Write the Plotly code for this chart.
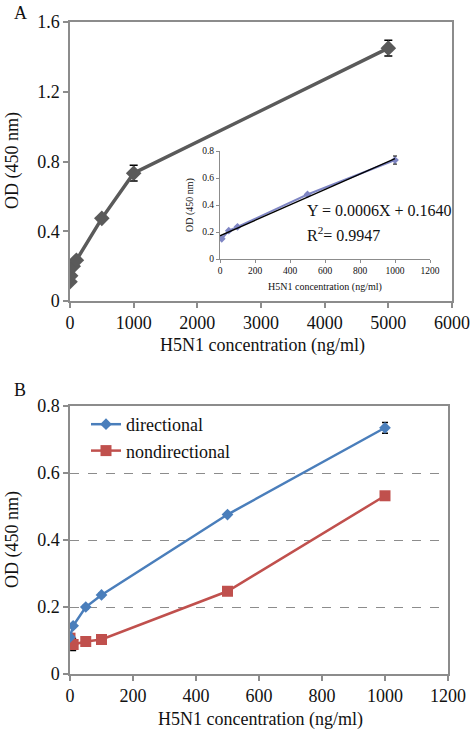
import numpy as np
import plotly.graph_objects as go

# ---- Data ----
# Panel A (main)
a_conc = [0, 10, 50, 100, 500, 1000, 5000]
a_od = [0.11, 0.145, 0.20, 0.234, 0.474, 0.733, 1.45]
a_err = [0.005, 0.005, 0.005, 0.008, 0.008, 0.045, 0.045]

# Panel A inset (linear range)
inset_conc = [10, 50, 100, 500, 1000]
inset_od = [0.15, 0.21, 0.238, 0.478, 0.733]
inset_err = [0.005, 0.005, 0.005, 0.008, 0.03]
fit_text_1 = "Y = 0.0006X + 0.1640"
fit_text_2 = "R<sup>2</sup>= 0.9947"

# Panel B
b_conc = [0, 10, 50, 100, 500, 1000]
b_directional = [0.11, 0.144, 0.20, 0.236, 0.476, 0.735]
b_dir_err = [0.005, 0.005, 0.005, 0.005, 0.005, 0.016]
b_nondirectional = [0.107, 0.088, 0.097, 0.103, 0.247, 0.532]
b_nondir_err = [0.005, 0.018, 0.005, 0.005, 0.005, 0.005]

a_xticks = [0, 1000, 2000, 3000, 4000, 5000, 6000]
a_yticks = [0, 0.4, 0.8, 1.2, 1.6]
inset_xticks = [0, 200, 400, 600, 800, 1000, 1200]
inset_yticks = [0, 0.2, 0.4, 0.6, 0.8]
b_xticks = [0, 200, 400, 600, 800, 1000, 1200]
b_yticks = [0, 0.2, 0.4, 0.6, 0.8]

W, H = 472, 730
FONT = "Liberation Serif"
AXC = "#8c8c8c"

def px(x):
    return x / W

def py(y):
    return (H - y) / H

fig = go.Figure()

# Panel A main
fig.add_trace(go.Scatter(
    x=a_conc, y=a_od, mode="lines+markers", xaxis="x", yaxis="y",
    line=dict(color="#5a5a5a", width=3.5),
    marker=dict(symbol="diamond", size=12, color="#5a5a5a"),
    error_y=dict(type="data", array=a_err, color="#000000", thickness=1.5, width=4),
    showlegend=False))

# Inset
coef = np.polyfit(inset_conc, inset_od, 1)
fit_x = np.array([0, max(inset_conc)])
fit_y = np.polyval(coef, fit_x)
fig.add_trace(go.Scatter(
    x=inset_conc, y=inset_od, mode="lines+markers", xaxis="x2", yaxis="y2",
    line=dict(color="#7f86c4", width=2),
    marker=dict(symbol="diamond", size=6, color="#7f86c4"),
    error_y=dict(type="data", array=inset_err, color="#000000", thickness=1, width=2),
    showlegend=False))
fig.add_trace(go.Scatter(
    x=fit_x, y=fit_y, mode="lines", xaxis="x2", yaxis="y2",
    line=dict(color="#000000", width=1.3), showlegend=False))

# Panel B
fig.add_trace(go.Scatter(
    x=b_conc, y=b_nondirectional, mode="lines+markers", xaxis="x3", yaxis="y3",
    name="nondirectional",
    line=dict(color="#c0504d", width=2.5),
    marker=dict(symbol="square", size=11, color="#c0504d"),
    error_y=dict(type="data", array=b_nondir_err, color="#000000", thickness=1.5, width=3)))
fig.add_trace(go.Scatter(
    x=b_conc, y=b_directional, mode="lines+markers", xaxis="x3", yaxis="y3",
    name="directional",
    line=dict(color="#4a7ebb", width=2.5),
    marker=dict(symbol="diamond", size=9, color="#4a7ebb"),
    error_y=dict(type="data", array=b_dir_err, color="#000000", thickness=1.5, width=3)))

tickfont = dict(family=FONT, size=18, color="#111")
small_font = dict(family=FONT, size=9.5, color="#111")

def main_axis(**kw):
    d = dict(showline=True, linecolor=AXC, linewidth=1.5, mirror=True,
             ticks="outside", ticklen=5, tickcolor=AXC, tickwidth=1.5,
             tickfont=tickfont, zeroline=False, showgrid=False, fixedrange=True,
             automargin=False)
    d.update(kw)
    return d

def inset_axis(**kw):
    d = dict(showline=True, linecolor=AXC, linewidth=1, ticks="outside", ticklen=3,
             tickcolor=AXC, tickfont=small_font, zeroline=False, showgrid=False,
             fixedrange=True, automargin=False)
    d.update(kw)
    return d

fig.update_layout(
    width=W, height=H,
    margin=dict(l=0, r=0, t=0, b=0, autoexpand=False),
    paper_bgcolor="white", plot_bgcolor="white",
    font=dict(family=FONT, color="#111"),
    xaxis=main_axis(domain=[px(70), px(452)], range=[0, 6000], tickvals=a_xticks,
                    anchor="y"),
    yaxis=main_axis(domain=[py(301), py(22)], range=[0, 1.6], tickvals=a_yticks,
                    ticktext=["0", "0.4", "0.8", "1.2", "1.6"], anchor="x"),
    xaxis2=inset_axis(domain=[px(220), px(430)], range=[0, 1200], tickvals=inset_xticks,
                      anchor="y2"),
    yaxis2=inset_axis(domain=[py(259), py(151)], range=[0, 0.8], tickvals=inset_yticks,
                      ticktext=["0", "0.2", "0.4", "0.6", "0.8"], anchor="x2"),
    xaxis3=main_axis(domain=[px(70), px(448)], range=[0, 1200], tickvals=b_xticks,
                     anchor="y3"),
    yaxis3=main_axis(domain=[py(674), py(406)], range=[0, 0.8], tickvals=b_yticks,
                     ticktext=["0", "0.2", "0.4", "0.6", "0.8"], anchor="x3",
                     showgrid=True, gridcolor="#8c8c8c", gridwidth=1.3, griddash="dash"),
    legend=dict(x=px(86), y=py(406), xanchor="left", yanchor="top",
                font=dict(family=FONT, size=18, color="#111"),
                bgcolor="rgba(0,0,0,0)", traceorder="reversed",
                itemwidth=30, tracegroupgap=0),
    showlegend=True,
)

ann = [
    dict(text="A", x=px(20), y=py(13), font=dict(size=18)),
    dict(text="B", x=px(20), y=py(390), font=dict(size=18)),
    dict(text="OD (450 nm)", x=px(12), y=py(161), textangle=-90, font=dict(size=18)),
    dict(text="H5N1 concentration (ng/ml)", x=px(262), y=py(345), font=dict(size=18)),
    dict(text="OD (450 nm)", x=px(12), y=py(540), textangle=-90, font=dict(size=18)),
    dict(text="H5N1 concentration (ng/ml)", x=px(260), y=py(719), font=dict(size=18)),
    dict(text="OD (450 nm)", x=px(190), y=py(205), textangle=-90, font=dict(size=10)),
    dict(text="H5N1 concentration (ng/ml)", x=px(325), y=py(287), font=dict(size=10)),
    dict(text=fit_text_1, x=px(305), y=py(211), xanchor="left", font=dict(size=16)),
    dict(text=fit_text_2, x=px(305), y=py(234), xanchor="left", font=dict(size=16)),
]
for a in ann:
    a.setdefault("xanchor", "center")
    a.update(xref="paper", yref="paper", yanchor="middle", showarrow=False)
    a["font"] = dict(family=FONT, color="#111", **a["font"])
fig.update_layout(annotations=ann)

fig.write_html(
    "out.html",
    config={"displayModeBar": False},
    post_script="document.body.style.margin='0';document.body.style.overflow='hidden';",
)
